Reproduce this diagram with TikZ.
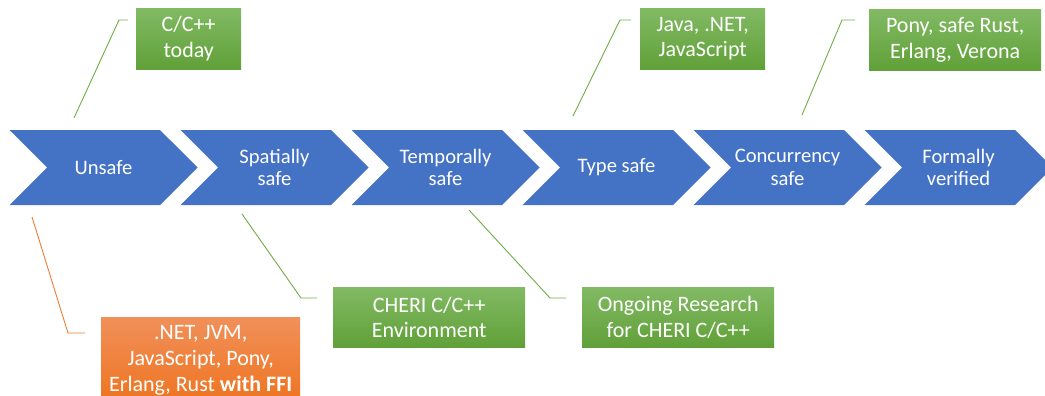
\documentclass[tikz,border=0pt]{standalone}
\usepackage{fontspec}
\setmainfont{Carlito}
\usetikzlibrary{positioning,shapes.symbols}
\definecolor{StageBlue}{RGB}{68,114,196}
\definecolor{NoteGreen}{RGB}{112,173,71}
\definecolor{NoteGreenTop}{RGB}{130,186,100}
\definecolor{NoteGreenBottom}{RGB}{96,160,56}
\definecolor{NoteOrange}{RGB}{237,125,49}
\definecolor{NoteOrangeTop}{RGB}{241,144,90}
\definecolor{NoteOrangeBottom}{RGB}{238,116,32}

\begin{document}
\begin{tikzpicture}[
  x=1pt, y=-1pt, % pixel grid of the slide, y pointing down
  stage/.style={shape=signal, signal from=west, signal to=east, signal pointer angle=90,
    fill=StageBlue, text=white, inner sep=0pt, minimum width=188pt, minimum height=75pt,
    align=center, font=\fontsize{20.6}{22.5}\selectfont},
  goodnote/.style={top color=NoteGreenTop, bottom color=NoteGreenBottom, text=white,
    align=center, anchor=north west, inner sep=0pt, font=\fontsize{22}{25.5}\selectfont},
  ffinote/.style={top color=NoteOrangeTop, bottom color=NoteOrangeBottom, text=white,
    align=center, anchor=north west, inner sep=0pt, font=\fontsize{22}{26}\selectfont},
  greenleader/.style={draw=NoteGreen, line width=0.9pt},
  orangeleader/.style={draw=NoteOrange, line width=0.9pt}
]
\useasboundingbox (0,0) rectangle (1045,396);

% --- Safety stages ---
\node[stage] (unsafe) at (103.5,167.5) {Unsafe};
\node[stage] (spatial) at (274.5,167.5) {Spatially\\safe};
\node[stage] (temporal) at (445.5,167.5) {Temporally\\safe};
\node[stage] (typesafe) at (616.5,167.5) {Type safe};
\node[stage] (concurrent) at (787.5,167.5) {Concurrency\\safe};
\node[stage] (verified) at (958.5,167.5) {Formally\\verified};

% --- Upper notes ---
\node[goodnote, minimum width=105pt, minimum height=61pt] (cpp) at (136,8) {C/C++\\today};
\node[goodnote, minimum width=125pt, minimum height=61pt] (managed) at (640,8) {Java, .NET,\\JavaScript};
\node[goodnote, minimum width=172pt, minimum height=61pt] (racefree) at (869,9) {Pony, safe Rust,\\Erlang, Verona};

% --- Lower notes ---
\node[ffinote, minimum width=199pt, minimum height=86pt] (ffi) at (101,317)
  {.NET, JVM,\\JavaScript, Pony,\\Erlang, Rust \textbf{with FFI}};
\node[goodnote, minimum width=192pt, minimum height=60pt] (cheri) at (333,287) {CHERI C/C++\\Environment};
\node[goodnote, minimum width=192pt, minimum height=60pt] (research) at (582,287) {Ongoing Research\\for CHERI C/C++};

% --- Leader lines ---
\coordinate (cppfoot) at (74,118);
\coordinate (managedfoot) at (573,116);
\coordinate (racefreefoot) at (802,115);
\coordinate (ffifoot) at (32,217);
\coordinate (cherifoot) at (242,214);
\coordinate (researchfoot) at (469,210);

\draw[greenleader] (cppfoot) -- ([xshift=-17pt,yshift=-12pt]cpp.north west) -- ([xshift=-8pt,yshift=-12pt]cpp.north west);
\draw[greenleader] (managedfoot) -- ([xshift=-20pt,yshift=-12pt]managed.north west) -- ([xshift=-9pt,yshift=-12pt]managed.north west);
\draw[greenleader] (racefreefoot) -- ([xshift=-27pt,yshift=-11pt]racefree.north west) -- ([xshift=-14pt,yshift=-11pt]racefree.north west);
\draw[orangeleader] (ffifoot) -- ([xshift=-33pt,yshift=-16pt]ffi.north west) -- ([xshift=-16pt,yshift=-16pt]ffi.north west);
\draw[greenleader] (cherifoot) -- ([xshift=-32pt,yshift=-11pt]cheri.north west) -- ([xshift=-16pt,yshift=-11pt]cheri.north west);
\draw[greenleader] (researchfoot) -- ([xshift=-32pt,yshift=-11pt]research.north west) -- ([xshift=-16pt,yshift=-11pt]research.north west);

\end{tikzpicture}
\end{document}
